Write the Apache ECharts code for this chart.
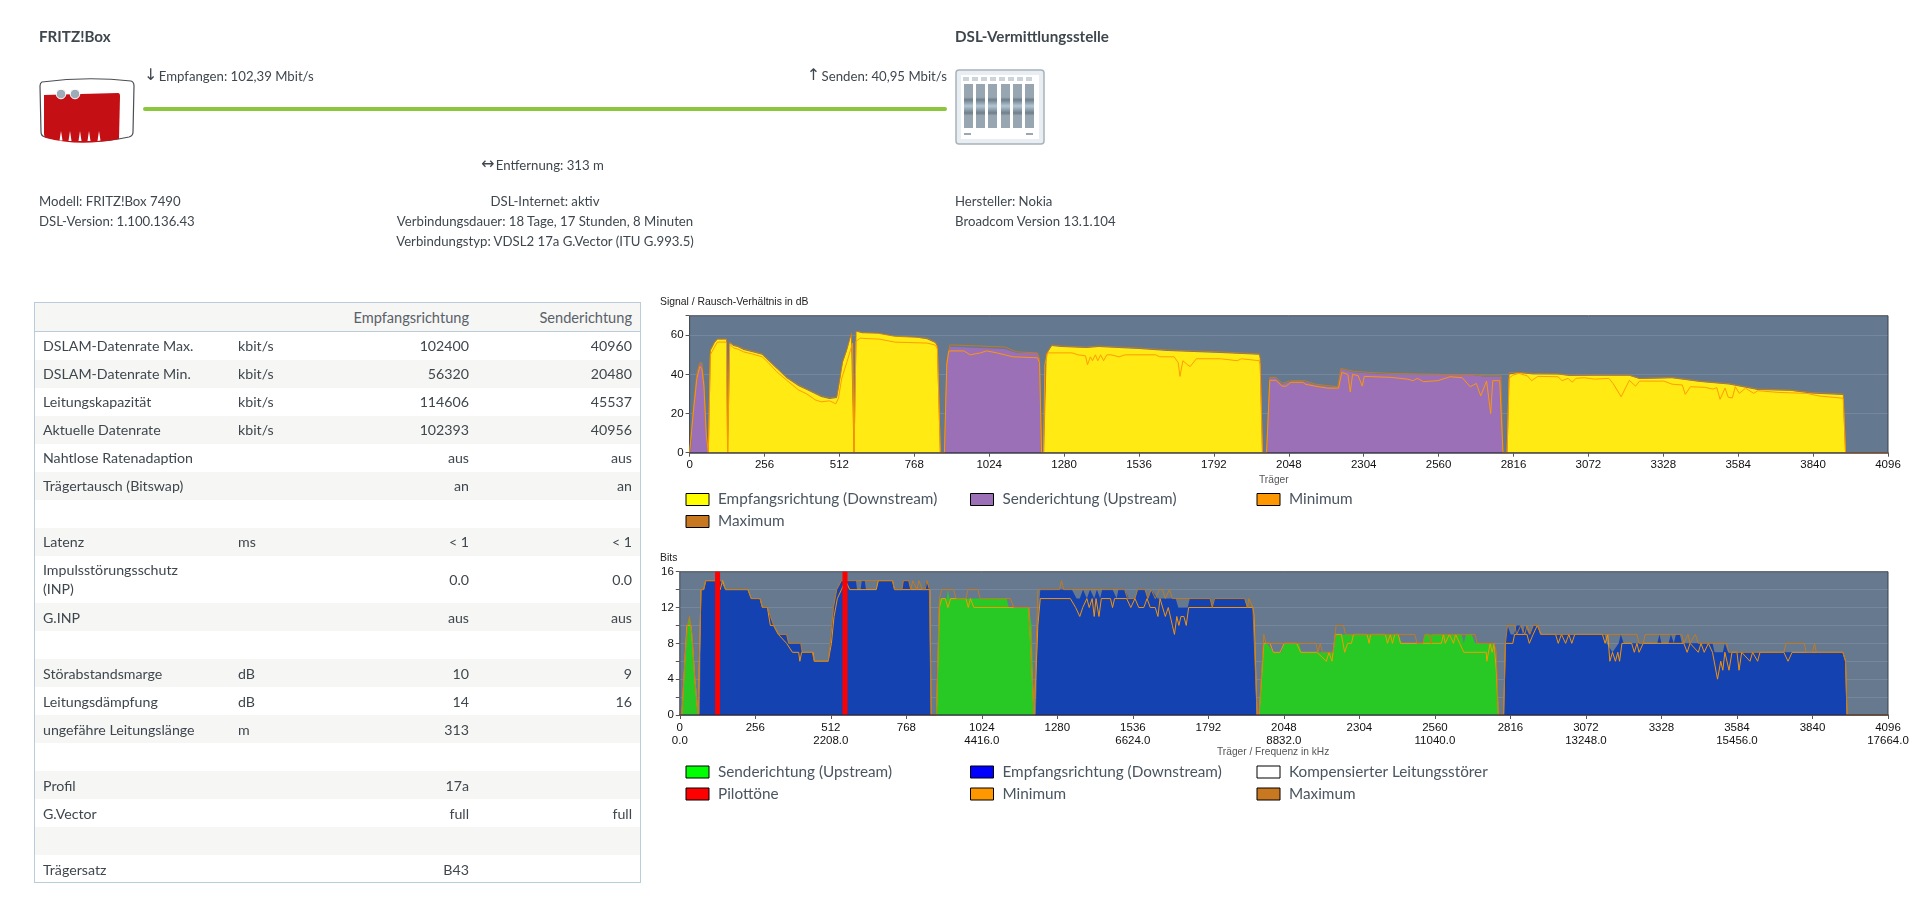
<!DOCTYPE html>
<html lang="de">
<head>
<meta charset="utf-8">
<title>DSL-Informationen</title>
<script src="https://cdn.jsdelivr.net/npm/echarts@6/dist/echarts.min.js"></script>
<style>
html,body{margin:0;padding:0;background:#fff;width:1920px;height:900px;overflow:hidden}
body{font-family:Lato,"Noto Sans",sans-serif;color:#3f474e;font-size:13.2px}
#chart{position:absolute;left:0;top:0;width:1920px;height:900px}
.t{position:absolute;white-space:nowrap;line-height:18px;transform:translateY(-50%)}
.c{transform:translate(-50%,-50%)}
.r{transform:translate(-100%,-50%)}
.b{font-weight:700;font-size:15.2px}
.ar{font-family:"DejaVu Sans",sans-serif;font-size:16px;display:inline-block;line-height:16px;vertical-align:1px;margin-right:-2px}
#line{position:absolute;left:143px;top:107px;width:804px;height:4px;background:#8cc63f;border-radius:2px}
svg.i{position:absolute}
#tbl{position:absolute;left:34px;top:302px;width:607px;height:581px;border:1px solid #b9ccd9;box-sizing:border-box;font-size:14.2px}
.row{position:absolute;left:0;right:0;height:28px}
.row span{position:absolute;top:50%;transform:translateY(-50%);line-height:19px;white-space:nowrap;margin-top:-.5px}
.lab{left:8px}.unit{left:203px}.v1{right:171px}.v2{right:8px}
.hd{border-bottom:1px solid #b9ccd9}
.hd span{font-size:14.6px;color:#59616a}
</style>
</head>
<body>
<div id="chart"></div>

<div class="t b" style="left:39px;top:36px">FRITZ!Box</div>
<div class="t b" style="left:955px;top:36px">DSL-Vermittlungsstelle</div>
<div class="t" style="left:144px;top:76px"><span class="ar">↓</span> Empfangen: 102,39 Mbit/s</div>
<div class="t r" style="left:947px;top:76px"><span class="ar">↑</span> Senden: 40,95 Mbit/s</div>
<div id="line"></div>
<div class="t" style="left:481px;top:165px"><span class="ar">↔</span> Entfernung: 313 m</div>
<div class="t" style="left:39px;top:201px">Modell: FRITZ!Box 7490</div>
<div class="t" style="left:39px;top:221px">DSL-Version: 1.100.136.43</div>
<div class="t c" style="left:545px;top:201px">DSL-Internet: aktiv</div>
<div class="t c" style="left:545px;top:221px">Verbindungsdauer: 18 Tage, 17 Stunden, 8 Minuten</div>
<div class="t c" style="left:545px;top:241px">Verbindungstyp: VDSL2 17a G.Vector (ITU G.993.5)</div>
<div class="t" style="left:955px;top:201px">Hersteller: Nokia</div>
<div class="t" style="left:955px;top:221px">Broadcom Version 13.1.104</div>

<svg class="i" style="left:39px;top:76px" width="97" height="70" viewBox="0 0 97 70">
  <path d="M3 6 Q48 0 92 5 Q95 6 95 10 L94 56 Q94 60 90 61 Q48 70 6 61 Q2 60 2 56 L1 10 Q1 7 3 6Z" fill="#fff" stroke="#4a4f55" stroke-width="1.2"/>
  <path d="M5 19 L79 17 Q81 17 81 20 L80 63 Q40 71 7 62 Q5 61 5 58Z" fill="#c41015"/>
  <circle cx="22" cy="18" r="4.8" fill="#9eacb8" stroke="#fff"/><circle cx="36" cy="18" r="4.8" fill="#9eacb8" stroke="#fff"/>
  <path d="M22 55 L20.5 64.5 L23.5 64.5Z M31 55 L29.5 65 L32.5 65Z M41 55 L39.5 65 L42.5 65Z M50 55 L48.5 65 L51.5 65Z M60 55 L58.5 65 L61.5 64.5Z" fill="#fff"/>
</svg>
<svg class="i" style="left:955px;top:69px" width="90" height="76" viewBox="0 0 90 76">
  <defs><linearGradient id="g" x1="0" y1="0" x2="0" y2="1">
    <stop offset="0" stop-color="#98a6b2"/><stop offset=".3" stop-color="#98a6b2"/><stop offset=".36" stop-color="#6f7e8a"/><stop offset=".5" stop-color="#b4c6d4"/><stop offset=".66" stop-color="#6f7e8a"/><stop offset=".72" stop-color="#98a6b2"/><stop offset="1" stop-color="#98a6b2"/>
  </linearGradient></defs>
  <rect x="1" y="1" width="88" height="74" rx="3" fill="#e9eef2" stroke="#a8b3bc" stroke-width="1.5"/>
  <rect x="6" y="6" width="78" height="64" fill="#fff"/>
  <g fill="#ccd3d9"><rect x="8" y="8" width="6" height="4"/><rect x="17" y="8" width="6" height="4"/><rect x="26" y="8" width="6" height="4"/><rect x="35" y="8" width="6" height="4"/><rect x="44" y="8" width="6" height="4"/><rect x="53" y="8" width="6" height="4"/><rect x="62" y="8" width="6" height="4"/><rect x="71" y="8" width="6" height="4"/></g>
  <g fill="url(#g)"><rect x="9" y="15" width="9" height="44"/><rect x="21" y="15" width="9" height="44"/><rect x="33" y="15" width="9" height="44"/><rect x="46" y="15" width="9" height="44"/><rect x="58" y="15" width="9" height="44"/><rect x="70" y="15" width="9" height="44"/></g>
  <g fill="#9aa6b0"><rect x="9" y="64" width="7" height="2"/><rect x="71" y="64" width="7" height="2"/></g>
</svg>

<div id="tbl"></div>

<script>
// ---- table contents ----
const tableHeader = ['', '', 'Empfangsrichtung', 'Senderichtung'];
const tableRows = [
  ['DSLAM-Datenrate Max.', 'kbit/s', '102400', '40960'],
  ['DSLAM-Datenrate Min.', 'kbit/s', '56320', '20480'],
  ['Leitungskapazität', 'kbit/s', '114606', '45537'],
  ['Aktuelle Datenrate', 'kbit/s', '102393', '40956'],
  ['Nahtlose Ratenadaption', '', 'aus', 'aus'],
  ['Trägertausch (Bitswap)', '', 'an', 'an'],
  ['', '', '', ''],
  ['Latenz', 'ms', '< 1', '< 1'],
  ['Impulsstörungsschutz<br>(INP)', '', '0.0', '0.0'],
  ['G.INP', '', 'aus', 'aus'],
  ['', '', '', ''],
  ['Störabstandsmarge', 'dB', '10', '9'],
  ['Leitungsdämpfung', 'dB', '14', '16'],
  ['ungefähre Leitungslänge', 'm', '313', ''],
  ['', '', '', ''],
  ['Profil', '', '17a', ''],
  ['G.Vector', '', 'full', 'full'],
  ['', '', '', ''],
  ['Trägersatz', '', 'B43', '']
];

// ---- chart 1: Signal / Rausch-Verhältnis, [carrier, dB] ----
const snrDown = [[64,0],[71,52],[85,56],[95,58],[126,58],[130,0],[137,56],[150,54.5],[164,54],[185,52.5],[213,51.5],[248,50],[269,47],[297,43],[332,38],[373,34],[401,32],[429,30],[450,28.5],[478,27.5],[503,28],[509,33],[523,46],[537,52],[553,61],[557,61],[562,0],[569,62],[590,61],[645,61],[701,59.5],[771,59],[812,58],[840,56],[847,54],[857,0],[1210,0],[1219,50],[1238,54.5],[1272,54],[1356,53.5],[1398,54],[1537,53],[1634,52],[1815,51],[1947,50],[1950,48],[1958,0],[2794,0],[2801,40],[2835,40.7],[2884,40],[2968,39.9],[3009,39.2],[3093,39.3],[3212,39.3],[3247,37.6],[3358,38],[3456,36.1],[3553,34.9],[3651,32],[3762,31.7],[3832,30.3],[3943,29.5],[3951,0]];
const snrUp = [[4,0],[15,25],[25,40],[35,45.5],[42,45.5],[49,35],[57,10],[64,0],[871,0],[879,46],[889,54],[910,54],[1077,53],[1119,51],[1189,51],[1196,48],[1203,0],[1972,0],[1983,38],[2004,38],[2025,35],[2048,36],[2062,36.3],[2104,36.3],[2139,34.6],[2215,33.2],[2226,42.6],[2243,42],[2271,41],[2397,40],[2578,39.7],[2675,39.7],[2717,38.8],[2773,38.8],[2780,0]];
const snrMin = [[0,0],[4,0],[15,24],[25,38],[35,44],[42,43],[49,34],[57,9],[64,0],[71,50],[85,54],[95,56.5],[126,56.5],[130,0],[137,55.5],[150,53.5],[164,53],[185,51.5],[213,50.5],[248,49],[269,46],[297,41.5],[332,37],[373,32],[401,30],[429,27],[450,26],[478,26.5],[500,25],[509,28],[520,38],[537,46],[553,54],[557,56],[562,0],[569,57],[583,58.5],[650,58],[701,56.5],[812,56],[840,55],[847,53],[857,0],[871,0],[879,45],[886,52],[938,52],[959,50],[994,51],[1015,52],[1050,51],[1105,49],[1189,48.5],[1196,46],[1203,0],[1210,0],[1214,45],[1224,51],[1307,51],[1328,50],[1353,49.5],[1360,45],[1370,49],[1377,47],[1387,50],[1395,47],[1405,50],[1415,47],[1426,50],[1440,50],[1468,49],[1489,50],[1593,50],[1607,49],[1656,49],[1670,46],[1676,39],[1686,47],[1701,45],[1711,44],[1732,48],[1815,48],[1872,47],[1886,48],[1947,47],[1950,45],[1958,0],[1972,0],[1983,37],[2004,37],[2025,34],[2039,34],[2055,36],[2097,36],[2104,35],[2139,34],[2180,33],[2218,33],[2229,41],[2250,40],[2258,31],[2266,40],[2285,39.4],[2299,34],[2306,39],[2397,38.5],[2453,37.6],[2473,36.8],[2487,38],[2508,36.3],[2557,36.8],[2599,38.8],[2641,38.3],[2668,33.7],[2689,35.4],[2704,29],[2724,36.6],[2738,20],[2745,36.8],[2769,36.8],[2780,0],[2794,0],[2801,38],[2814,39.7],[2835,40.5],[2863,39.3],[2878,36.8],[2899,39],[2968,38.8],[2982,36.8],[3003,38],[3016,36],[3030,38],[3058,38.3],[3093,37.6],[3142,38],[3156,35.4],[3184,28.6],[3212,37],[3233,34],[3247,36.6],[3330,36.6],[3358,35],[3393,34.6],[3403,29.8],[3421,33.7],[3470,33.4],[3498,32.5],[3511,33.2],[3522,27.3],[3539,33],[3550,28.3],[3564,28],[3574,33.7],[3588,30.3],[3609,33],[3637,30.3],[3651,31.7],[3721,30.8],[3819,30.3],[3860,29],[3888,28.6],[3943,27.8],[3951,0],[4096,0]];
const snrMax = [[0,0],[4,0],[15,26],[25,41],[35,46],[42,46],[49,36],[57,11],[64,0],[71,52.5],[85,56.5],[95,58],[126,58],[130,0],[137,56.5],[150,55],[164,54.5],[185,53],[213,52],[248,50.5],[269,47.5],[297,43.5],[332,38.5],[373,34.5],[401,32.5],[429,30.5],[450,29],[478,28],[503,28.5],[509,33.5],[523,46.5],[537,52.5],[553,61],[557,61],[562,0],[569,62],[590,61.5],[645,61],[701,59.5],[771,59],[812,58.5],[840,56.5],[847,54.5],[857,0],[871,0],[879,46.5],[889,55],[910,55],[1077,54],[1119,51.5],[1189,51],[1196,48],[1203,0],[1210,0],[1219,50.5],[1238,55],[1272,54.5],[1356,54],[1398,54.5],[1537,53.5],[1634,52.5],[1815,51.5],[1947,50.5],[1950,48.5],[1958,0],[1972,0],[1983,38.5],[2004,38.5],[2025,35.5],[2048,36.5],[2062,36.8],[2104,36.8],[2139,35],[2215,33.7],[2226,43],[2243,42.5],[2271,41.5],[2397,40.5],[2578,40],[2675,40],[2717,39.3],[2773,39.3],[2780,0],[2794,0],[2801,41],[2835,41],[2884,40.5],[2968,40.3],[3009,39.6],[3093,39.7],[3212,39.7],[3247,38],[3358,38.5],[3456,36.5],[3553,35.3],[3651,32.5],[3762,32],[3832,30.8],[3943,30],[3951,0],[4096,0]];

// ---- chart 2: Bits, [carrier, bits] ----
const bitsUp = [[7,0],[17,6],[26,10],[33,11],[41,9],[51,4],[62,0],[870,0],[880,13],[905,13],[909,14],[914,13],[1108,13],[1115,12],[1183,12],[1193,10],[1201,0],[1964,0],[1978,8],[1990,8],[2012,7],[2040,7],[2049,8],[2100,8],[2107,7],[2215,7],[2225,9],[2436,9],[2448,8],[2519,8],[2526,9],[2651,9],[2658,8],[2665,9],[2685,9],[2696,8],[2761,8],[2768,5],[2775,0]];
const bitsDown = [[68,0],[72,14],[81,14],[88,15],[141,15],[155,14],[231,14],[242,13],[272,13],[280,12],[297,12],[307,11],[318,10],[334,9],[362,9],[369,8],[410,8],[415,7],[449,7],[456,6],[503,6],[510,8],[521,12],[532,14],[548,15],[597,15],[601,14],[613,14],[617,15],[627,15],[631,14],[666,14],[673,15],[721,15],[728,14],[753,14],[758,15],[776,15],[783,14],[831,14],[835,15],[841,15],[848,14],[850,14],[852,0],[1207,0],[1214,10],[1222,14],[1329,14],[1345,13],[1356,13],[1367,14],[1380,13],[1391,14],[1405,13],[1414,14],[1425,13],[1432,14],[1467,14],[1481,13],[1487,14],[1508,14],[1522,13],[1543,13],[1552,14],[1577,14],[1587,13],[1598,14],[1619,13],[1681,13],[1690,12],[1722,12],[1729,13],[1798,13],[1805,12],[1812,13],[1915,13],[1922,12],[1943,12],[1947,11],[1957,0],[2793,0],[2799,8],[2806,10],[2817,9],[2828,9],[2837,10],[2851,10],[2858,9],[2865,10],[2879,9],[2895,10],[2909,10],[2918,9],[3135,9],[3142,8],[3162,7],[3183,8],[3190,9],[3200,8],[3314,8],[3321,9],[3328,8],[3352,8],[3360,9],[3370,8],[3377,9],[3390,9],[3397,8],[3501,8],[3508,7],[3536,7],[3543,8],[3554,7],[3943,7],[3952,6],[3957,0]];
const bitsMin = [[0,0],[7,0],[17,6],[24,10],[38,10],[45,7],[51,4],[62,0],[68,0],[72,14],[81,14],[88,15],[127,15],[137,14],[145,15],[155,14],[231,14],[242,13],[272,13],[280,12],[297,12],[307,10],[318,10],[334,9],[362,8],[382,7],[403,7],[407,6],[413,7],[452,7],[456,6],[503,6],[514,8],[523,11],[534,13],[548,14],[562,15],[576,14],[666,14],[673,15],[721,15],[728,14],[848,14],[852,0],[870,0],[880,12],[888,13],[900,13],[909,12],[918,13],[970,13],[978,12],[985,13],[997,12],[1183,12],[1201,0],[1207,0],[1214,10],[1222,13],[1324,13],[1342,12],[1356,11],[1366,12],[1380,13],[1388,12],[1398,13],[1405,11],[1411,13],[1421,11],[1429,13],[1460,13],[1467,12],[1474,13],[1515,13],[1529,12],[1543,13],[1556,12],[1573,12],[1584,13],[1595,12],[1612,12],[1621,11],[1628,13],[1646,11],[1656,12],[1670,10],[1677,9],[1685,11],[1692,10],[1699,11],[1709,11],[1717,10],[1725,12],[1943,12],[1947,11],[1957,0],[1964,0],[1980,8],[2001,8],[2012,7],[2035,7],[2049,8],[2091,8],[2105,7],[2160,7],[2192,6],[2201,7],[2211,6],[2222,9],[2243,9],[2254,7],[2264,8],[2277,8],[2284,9],[2330,9],[2337,8],[2342,9],[2392,9],[2399,8],[2409,9],[2416,8],[2424,9],[2436,9],[2443,8],[2582,8],[2589,9],[2595,8],[2609,9],[2623,8],[2630,9],[2644,8],[2658,7],[2734,7],[2736,6],[2747,8],[2754,7],[2761,8],[2768,5],[2775,0],[2793,0],[2799,8],[2824,8],[2830,9],[2872,9],[2880,8],[2893,9],[2907,10],[2920,9],[2969,9],[2978,8],[2989,9],[3003,8],[3014,9],[3024,8],[3034,9],[3128,9],[3137,8],[3146,9],[3153,6],[3162,7],[3172,6],[3180,7],[3186,6],[3194,8],[3227,8],[3236,7],[3245,8],[3252,7],[3266,8],[3404,8],[3415,7],[3425,8],[3453,7],[3462,8],[3473,7],[3487,8],[3501,7],[3518,4],[3529,6],[3536,5],[3543,7],[3557,5],[3567,7],[3584,7],[3591,5],[3600,7],[3628,6],[3637,7],[3654,6],[3662,7],[3743,7],[3757,6],[3771,7],[3943,7],[3952,6],[3957,0],[4096,0]];
const bitsMax = [[0,0],[7,0],[17,6],[26,10],[33,11],[41,9],[51,4],[62,0],[68,0],[72,14],[81,14],[88,15],[141,15],[155,14],[231,14],[242,13],[272,13],[280,12],[297,12],[307,11],[318,10],[334,9],[362,9],[369,8],[410,8],[415,7],[449,7],[456,6],[503,6],[510,8],[521,12],[532,14],[548,15],[721,15],[728,14],[753,14],[758,15],[776,15],[783,14],[790,15],[804,14],[811,15],[822,14],[832,14],[838,15],[846,14],[850,14],[852,0],[870,0],[880,13],[888,14],[928,14],[937,13],[970,13],[977,14],[1011,14],[1018,13],[1121,13],[1132,12],[1183,12],[1201,0],[1207,0],[1214,14],[1287,14],[1294,15],[1301,14],[1508,14],[1518,13],[1543,13],[1552,14],[1577,14],[1587,13],[1598,14],[1612,13],[1626,14],[1637,14],[1646,13],[1660,14],[1670,13],[1798,13],[1805,12],[1813,13],[1915,13],[1925,12],[1929,13],[1943,12],[1957,0],[1964,0],[1980,9],[1987,8],[2157,8],[2163,7],[2171,8],[2179,7],[2215,7],[2225,10],[2250,10],[2257,9],[2492,9],[2499,8],[2519,8],[2526,9],[2540,9],[2547,8],[2550,9],[2696,9],[2703,8],[2761,8],[2768,7],[2775,0],[2793,0],[2799,8],[2806,10],[2830,10],[2837,9],[2851,10],[2865,9],[2872,10],[2882,9],[2893,10],[2909,10],[2918,9],[3245,9],[3252,8],[3266,8],[3273,9],[3397,9],[3404,8],[3418,9],[3425,8],[3443,9],[3453,8],[3549,8],[3556,7],[3743,7],[3750,8],[3812,8],[3819,7],[3840,7],[3847,8],[3853,7],[3943,7],[3952,6],[3957,0],[4096,0]];
const pilotTones = [[128,16],[560,16]];
const leitungsstoerer = [];

// ---- tick labels ----
const freqLabels = {0:'0.0',512:'2208.0',1024:'4416.0',1536:'6624.0',2048:'8832.0',2560:'11040.0',3072:'13248.0',3584:'15456.0',4096:'17664.0'};

// ---- table ----
const tbl = document.getElementById('tbl');
function addRow(cells, top, h, shaded, extra) {
  const d = document.createElement('div');
  d.className = 'row ' + (extra || '');
  d.style.top = top + 'px'; d.style.height = h + 'px';
  if (shaded) d.style.background = '#f6f6f4';
  ['lab','unit','v1','v2'].forEach((c, i) => {
    if (!cells[i]) return;
    const s = document.createElement('span');
    s.className = c; s.innerHTML = cells[i].replace(/^</, '&lt;');
    d.appendChild(s);
  });
  tbl.appendChild(d);
}
addRow(tableHeader, 0, 28, true, 'hd');
let y = 28.5;
tableRows.forEach((r, i) => {
  const h = i === 8 ? 47.7 : 28;
  addRow(r, y, h, i % 2 === 1);
  y += h;
});

// ---- chart ----
const YELLOW='#ffea14', PURPLE='#9c70b7', BLUE='#1442b0', GREEN='#28c924', ORANGE='#ff9800', BROWN='#c47b1d';
const chart = echarts.init(document.getElementById('chart'));
const FONT = '"Liberation Sans",Arial,sans-serif';
const LEG = 'Lato,"Noto Sans",sans-serif';
function fill(name, data, color, xi) {
  return {name, type:'line', xAxisIndex:xi, yAxisIndex:xi, data, symbol:'none', color,
    lineStyle:{width:0}, areaStyle:{color, opacity:1}, z:2, silent:true};
}
function line(name, data, color, xi, z) {
  return {name, type:'line', xAxisIndex:xi, yAxisIndex:xi, data, symbol:'none', color,
    lineStyle:{width:1, color, opacity:.95}, z, silent:true};
}
function legendItem(name, color, left, top) {
  return {left, top, orient:'horizontal', selectedMode:false, itemWidth:23, itemHeight:12, padding:0,
    data:[{name, icon:'rect', itemStyle:{color, borderColor:'#000', borderWidth:1, opacity:1}}],
    textStyle:{fontFamily:LEG, fontSize:15.3, color:'#4a5560', padding:[0,0,0,4]}};
}
function xAxis(gi, formatter) {
  return {type:'value', gridIndex:gi, min:0, max:4096, interval:256, splitLine:{show:false}, z:8,
    axisLine:{show:true, onZero:false, lineStyle:{color:'rgba(45,40,60,0.8)', width:1.5}},
    axisTick:{show:true, length:4, lineStyle:{color:'#555'}},
    axisLabel:{formatter, fontFamily:FONT, fontSize:11.5, color:'#111', margin:6, lineHeight:13, hideOverlap:false, showMinLabel:true, showMaxLabel:true}};
}
function yAxis(gi, max, interval, every) {
  return {type:'value', gridIndex:gi, min:0, max, interval,
    splitLine:{show:true, lineStyle:{color:'rgba(255,255,255,0.11)', width:1}},
    axisLine:{show:false}, axisTick:{show:true, length:4, lineStyle:{color:'#555'}},
    axisLabel:{formatter:v => (v % every === 0 && v <= 60 || v === 16 && max === 16) ? String(v) : '',
      fontFamily:FONT, fontSize:11.5, color:'#111', margin:6}};
}
function axisTitle(text, left, top, bold) {
  return {text, left, top, padding:0, textStyle:{fontFamily:FONT, fontSize:bold?10.4:10.2, fontWeight:'normal', color:bold?'#222':'#555'}};
}
chart.setOption({
  animation:false,
  backgroundColor:'transparent',
  title:[
    axisTitle('Signal / Rausch-Verhältnis in dB', 660, 297, true),
    axisTitle('Träger', 1259, 475, false),
    axisTitle('Bits', 660, 553, true),
    axisTitle('Träger / Frequenz in kHz', 1217, 747, false)
  ],
  grid:[
    {left:689.6, top:315.7, width:1198.4, height:137, show:true, backgroundColor:'#64798f', borderColor:'#3d4148', borderWidth:1},
    {left:679.8, top:571.7, width:1208.2, height:143.3, show:true, backgroundColor:'#67798e', borderColor:'#3d4148', borderWidth:1}
  ],
  xAxis:[
    xAxis(0, v => String(v)),
    xAxis(1, v => freqLabels[v] !== undefined ? v + '\n' + freqLabels[v] : String(v) + '\n ')
  ],
  yAxis:[yAxis(0, 70, 20, 20), yAxis(1, 16, 2, 4)],
  legend:[
    legendItem('Empfangsrichtung (Downstream)', '#ffff00', 685.5, 492),
    legendItem('Senderichtung (Upstream)', PURPLE, 970, 492),
    legendItem('Minimum', ORANGE, 1256.5, 492),
    legendItem('Maximum', '#c87820', 685.5, 514),
    legendItem('Senderichtung (Upstream)', '#00ff00', 685.5, 764.5),
    legendItem('Empfangsrichtung (Downstream)', '#0000ff', 970, 764.5),
    legendItem('Kompensierter Leitungsstörer', '#ffffff', 1256.5, 764.5),
    legendItem('Pilottöne', '#ff0000', 685.5, 786.5),
    legendItem('Minimum', ORANGE, 970, 786.5),
    legendItem('Maximum', '#c87820', 1256.5, 786.5)
  ],
  series:[
    fill('Empfangsrichtung (Downstream)', snrDown, YELLOW, 0),
    fill('Senderichtung (Upstream)', snrUp, PURPLE, 0),
    line('Minimum', snrMin, ORANGE, 0, 4),
    line('Maximum', snrMax, BROWN, 0, 3),
    fill('Senderichtung (Upstream)', bitsUp, GREEN, 1),
    fill('Empfangsrichtung (Downstream)', bitsDown, BLUE, 1),
    fill('Kompensierter Leitungsstörer', leitungsstoerer, '#ffffff', 1),
    {name:'Pilottöne', type:'bar', xAxisIndex:1, yAxisIndex:1, data:pilotTones, barWidth:5, color:'#ff0000', z:6, silent:true},
    line('Minimum', bitsMin, ORANGE, 1, 4),
    line('Maximum', bitsMax, BROWN, 1, 5)
  ]
});
</script>
</body>
</html>
